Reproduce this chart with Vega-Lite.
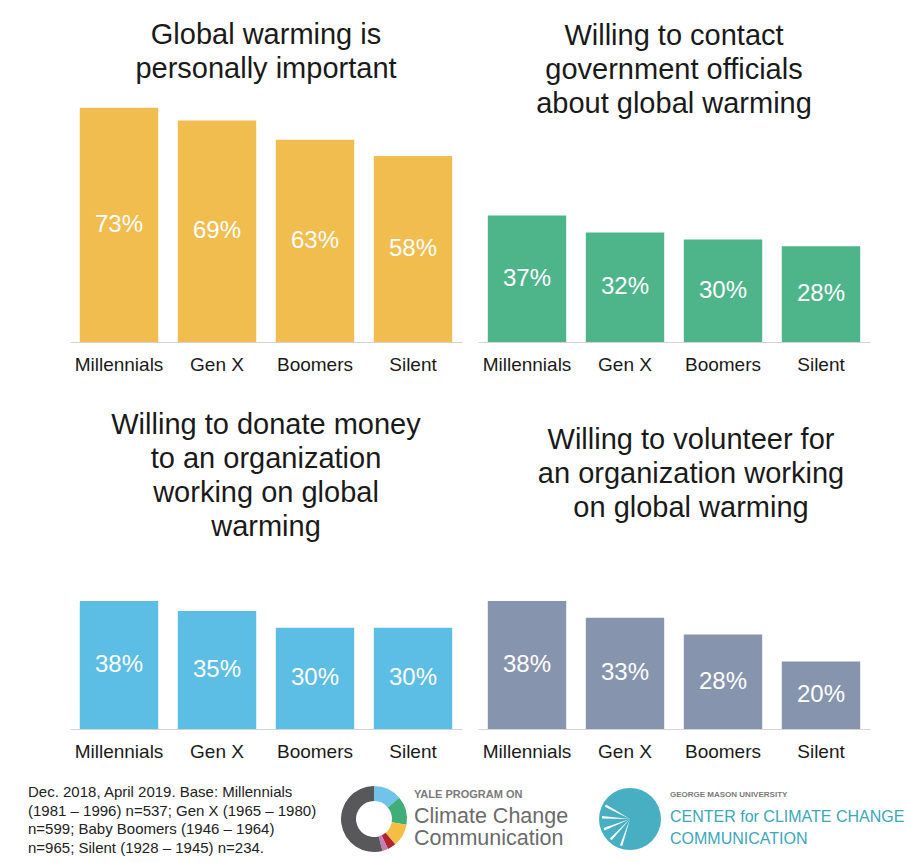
{
  "$schema": "https://vega.github.io/schema/vega-lite/v6.json",
  "padding": {"left": 28, "top": 20, "right": 0, "bottom": 0},
  "background": "white",
  "config": {
    "view": {"stroke": null},
    "font": "Liberation Sans",
    "title": {"font": "Liberation Sans", "fontSize": 29, "fontWeight": "normal", "color": "#1a1a1a", "lineHeight": 34, "anchor": "middle"}
  },
  "datasets": {
    "survey": [
      {"panel": "p1", "gen": "Millennials", "value": 0.73},
      {"panel": "p1", "gen": "Gen X", "value": 0.69},
      {"panel": "p1", "gen": "Boomers", "value": 0.63},
      {"panel": "p1", "gen": "Silent", "value": 0.58},
      {"panel": "p2", "gen": "Millennials", "value": 0.37},
      {"panel": "p2", "gen": "Gen X", "value": 0.32},
      {"panel": "p2", "gen": "Boomers", "value": 0.30},
      {"panel": "p2", "gen": "Silent", "value": 0.28},
      {"panel": "p3", "gen": "Millennials", "value": 0.38},
      {"panel": "p3", "gen": "Gen X", "value": 0.35},
      {"panel": "p3", "gen": "Boomers", "value": 0.30},
      {"panel": "p3", "gen": "Silent", "value": 0.30},
      {"panel": "p4", "gen": "Millennials", "value": 0.38},
      {"panel": "p4", "gen": "Gen X", "value": 0.33},
      {"panel": "p4", "gen": "Boomers", "value": 0.28},
      {"panel": "p4", "gen": "Silent", "value": 0.20}
    ]
  },
  "vconcat": [
    {
      "spacing": 37,
      "vconcat": [
        {
          "hconcat": [
            {
              "width": 392, "height": 240,
              "title": {"text": ["Global warming is", "personally important"], "offset": 18.5},
              "data": {"name": "survey"},
              "transform": [{"filter": "datum.panel === 'p1'"}],
              "layer": [
                {
                  "mark": {"type": "bar", "color": "#F1BD4E"},
                  "encoding": {
                    "x": {"field": "gen", "type": "nominal", "sort": ["Millennials", "Gen X", "Boomers", "Silent"], "scale": {"paddingInner": 0.2, "paddingOuter": 0.1}, "axis": {"title": null, "labelAngle": 0, "ticks": false, "domainColor": "#d3d3d3", "labelFontSize": 19, "labelColor": "#1a1a1a", "labelPadding": 13, "labelFont": "Liberation Sans"}},
                    "y": {"field": "value", "type": "quantitative", "scale": {"domain": [0, 0.748]}, "axis": null}
                  }
                },
                {
                  "mark": {"type": "text", "color": "#ffffff", "fontSize": 24, "baseline": "middle", "font": "Liberation Sans"},
                  "encoding": {
                    "x": {"field": "gen", "type": "nominal", "sort": ["Millennials", "Gen X", "Boomers", "Silent"], "scale": {"paddingInner": 0.2, "paddingOuter": 0.1}, "axis": {"title": null, "labelAngle": 0, "ticks": false, "domainColor": "#d3d3d3", "labelFontSize": 19, "labelColor": "#1a1a1a", "labelPadding": 13, "labelFont": "Liberation Sans"}},
                    "y": {"field": "value", "type": "quantitative", "scale": {"domain": [0, 1.496]}, "axis": null},
                    "text": {"field": "value", "type": "quantitative", "format": ".0%"}
                  }
                }
              ],
              "resolve": {"scale": {"y": "independent"}}
            },
            {
              "width": 392, "height": 240,
              "title": {"text": ["Willing to contact", "government officials", "about global warming"], "offset": -17},
              "data": {"name": "survey"},
              "transform": [{"filter": "datum.panel === 'p2'"}],
              "layer": [
                {
                  "mark": {"type": "bar", "color": "#4EB58B"},
                  "encoding": {
                    "x": {"field": "gen", "type": "nominal", "sort": ["Millennials", "Gen X", "Boomers", "Silent"], "scale": {"paddingInner": 0.2, "paddingOuter": 0.1}, "axis": {"title": null, "labelAngle": 0, "ticks": false, "domainColor": "#d3d3d3", "labelFontSize": 19, "labelColor": "#1a1a1a", "labelPadding": 13, "labelFont": "Liberation Sans"}},
                    "y": {"field": "value", "type": "quantitative", "scale": {"domain": [0, 0.702]}, "axis": null}
                  }
                },
                {
                  "mark": {"type": "text", "color": "#ffffff", "fontSize": 24, "baseline": "middle", "font": "Liberation Sans"},
                  "encoding": {
                    "x": {"field": "gen", "type": "nominal", "sort": ["Millennials", "Gen X", "Boomers", "Silent"], "scale": {"paddingInner": 0.2, "paddingOuter": 0.1}, "axis": {"title": null, "labelAngle": 0, "ticks": false, "domainColor": "#d3d3d3", "labelFontSize": 19, "labelColor": "#1a1a1a", "labelPadding": 13, "labelFont": "Liberation Sans"}},
                    "y": {"field": "value", "type": "quantitative", "scale": {"domain": [0, 1.404]}, "axis": null},
                    "text": {"field": "value", "type": "quantitative", "format": ".0%"}
                  }
                }
              ],
              "resolve": {"scale": {"y": "independent"}}
            }
          ],
          "spacing": 16,
          "bounds": "flush"
        },
        {
          "hconcat": [
            {
              "width": 392, "height": 147,
              "title": {"text": ["Willing to donate money", "to an organization", "working on global", "warming"], "offset": 39.6},
              "data": {"name": "survey"},
              "transform": [{"filter": "datum.panel === 'p3'"}],
              "layer": [
                {
                  "mark": {"type": "bar", "color": "#5CBEE5"},
                  "encoding": {
                    "x": {"field": "gen", "type": "nominal", "sort": ["Millennials", "Gen X", "Boomers", "Silent"], "scale": {"paddingInner": 0.2, "paddingOuter": 0.1}, "axis": {"title": null, "labelAngle": 0, "ticks": false, "domainColor": "#d3d3d3", "labelFontSize": 19, "labelColor": "#1a1a1a", "labelPadding": 13, "labelFont": "Liberation Sans"}},
                    "y": {"field": "value", "type": "quantitative", "scale": {"domain": [0, 0.436]}, "axis": null}
                  }
                },
                {
                  "mark": {"type": "text", "color": "#ffffff", "fontSize": 24, "baseline": "middle", "font": "Liberation Sans"},
                  "encoding": {
                    "x": {"field": "gen", "type": "nominal", "sort": ["Millennials", "Gen X", "Boomers", "Silent"], "scale": {"paddingInner": 0.2, "paddingOuter": 0.1}, "axis": {"title": null, "labelAngle": 0, "ticks": false, "domainColor": "#d3d3d3", "labelFontSize": 19, "labelColor": "#1a1a1a", "labelPadding": 13, "labelFont": "Liberation Sans"}},
                    "y": {"field": "value", "type": "quantitative", "scale": {"domain": [0, 0.872]}, "axis": null},
                    "text": {"field": "value", "type": "quantitative", "format": ".0%"}
                  }
                }
              ],
              "resolve": {"scale": {"y": "independent"}}
            },
            {
              "width": 392, "height": 147,
              "title": {"text": ["Willing to volunteer for", "an organization working", "on global warming"], "offset": 58.6, "dx": 17},
              "data": {"name": "survey"},
              "transform": [{"filter": "datum.panel === 'p4'"}],
              "layer": [
                {
                  "mark": {"type": "bar", "color": "#8794AE"},
                  "encoding": {
                    "x": {"field": "gen", "type": "nominal", "sort": ["Millennials", "Gen X", "Boomers", "Silent"], "scale": {"paddingInner": 0.2, "paddingOuter": 0.1}, "axis": {"title": null, "labelAngle": 0, "ticks": false, "domainColor": "#d3d3d3", "labelFontSize": 19, "labelColor": "#1a1a1a", "labelPadding": 13, "labelFont": "Liberation Sans"}},
                    "y": {"field": "value", "type": "quantitative", "scale": {"domain": [0, 0.436]}, "axis": null}
                  }
                },
                {
                  "mark": {"type": "text", "color": "#ffffff", "fontSize": 24, "baseline": "middle", "font": "Liberation Sans"},
                  "encoding": {
                    "x": {"field": "gen", "type": "nominal", "sort": ["Millennials", "Gen X", "Boomers", "Silent"], "scale": {"paddingInner": 0.2, "paddingOuter": 0.1}, "axis": {"title": null, "labelAngle": 0, "ticks": false, "domainColor": "#d3d3d3", "labelFontSize": 19, "labelColor": "#1a1a1a", "labelPadding": 13, "labelFont": "Liberation Sans"}},
                    "y": {"field": "value", "type": "quantitative", "scale": {"domain": [0, 0.872]}, "axis": null},
                    "text": {"field": "value", "type": "quantitative", "format": ".0%"}
                  }
                }
              ],
              "resolve": {"scale": {"y": "independent"}}
            }
          ],
          "spacing": 16,
          "bounds": "flush"
        }
      ]
    },
    {
      "hconcat": [
        {
          "width": 264, "height": 16,
          "data": {"values": [{"note": "Dec. 2018, April 2019. Base: Millennials\n(1981 – 1996) n=537; Gen X (1965 – 1980)\nn=599; Baby Boomers (1946 – 1964)\nn=965; Silent (1928 – 1945) n=234."}]},
          "mark": {"type": "text", "align": "left", "baseline": "middle", "lineBreak": "\n", "lineHeight": 18.7, "fontSize": 15, "font": "Liberation Sans", "color": "#222222", "dx": -42},
          "encoding": {
            "x": {"datum": 0, "type": "quantitative", "scale": {"domain": [0, 1]}, "axis": null},
            "text": {"field": "note"}
          }
        },
        {
          "width": 80, "height": 70,
          "data": {"values": [
            {"seg": "blue", "k": 1, "deg": 50},
            {"seg": "green", "k": 2, "deg": 50},
            {"seg": "yellow", "k": 3, "deg": 40},
            {"seg": "red", "k": 4, "deg": 15},
            {"seg": "pink", "k": 5, "deg": 10},
            {"seg": "gray", "k": 6, "deg": 195}
          ]},
          "mark": {"type": "arc", "innerRadius": 18, "outerRadius": 33},
          "encoding": {
            "theta": {"field": "deg", "type": "quantitative", "stack": true},
            "order": {"field": "k", "type": "quantitative"},
            "color": {"field": "seg", "type": "nominal", "legend": null, "scale": {"domain": ["blue", "green", "yellow", "red", "pink", "gray"], "range": ["#72C3EA", "#3FAE78", "#F3BE42", "#B3232F", "#C67CB5", "#58585A"]}}
          }
        },
        {
          "width": 176, "height": 66,
          "layer": [
            {
              "data": {"values": [{"line": 1, "text": "YALE PROGRAM ON"}]},
              "mark": {"type": "text", "align": "left", "baseline": "middle", "fontSize": 11, "fontWeight": "bold", "color": "#7a7a7a", "font": "Liberation Sans"},
              "encoding": {
                "x": {"datum": 0, "type": "quantitative", "scale": {"domain": [0, 1]}, "axis": null},
                "y": {"field": "line", "type": "ordinal", "scale": {"domain": [1, 2, 3]}, "axis": null},
                "text": {"field": "text"}
              }
            },
            {
              "data": {"values": [{"line": 2, "text": "Climate Change"}, {"line": 3, "text": "Communication"}]},
              "mark": {"type": "text", "align": "left", "baseline": "middle", "fontSize": 21.5, "color": "#6b6b6b", "font": "Liberation Sans"},
              "encoding": {
                "x": {"datum": 0, "type": "quantitative", "scale": {"domain": [0, 1]}, "axis": null},
                "y": {"field": "line", "type": "ordinal", "scale": {"domain": [1, 2, 3]}, "axis": null},
                "text": {"field": "text"}
              }
            }
          ]
        },
        {
          "width": 80, "height": 70,
          "layer": [
            {
              "data": {"values": [{"part": "disc", "w": 1}]},
              "mark": {"type": "arc", "outerRadius": 31, "color": "#47AFC1"},
              "encoding": {
                "theta": {"field": "w", "type": "quantitative", "stack": true}
              }
            },
            {
              "data": {"values": [
                {"k": 1, "kind": "gap", "deg": 196},
                {"k": 2, "kind": "ray", "deg": 5},
                {"k": 3, "kind": "gap", "deg": 20},
                {"k": 4, "kind": "ray", "deg": 5},
                {"k": 5, "kind": "gap", "deg": 20},
                {"k": 6, "kind": "ray", "deg": 5},
                {"k": 7, "kind": "gap", "deg": 20},
                {"k": 8, "kind": "ray", "deg": 5},
                {"k": 9, "kind": "gap", "deg": 20},
                {"k": 10, "kind": "ray", "deg": 5},
                {"k": 11, "kind": "gap", "deg": 59}
              ]},
              "mark": {"type": "arc", "outerRadius": 28},
              "encoding": {
                "theta": {"field": "deg", "type": "quantitative", "stack": true},
                "order": {"field": "k", "type": "quantitative"},
                "color": {"field": "kind", "type": "nominal", "legend": null, "scale": {"domain": ["gap", "ray"], "range": ["transparent", "#ffffff"]}}
              }
            }
          ],
          "resolve": {"scale": {"theta": "independent"}}
        },
        {
          "width": 235, "height": 66,
          "layer": [
            {
              "data": {"values": [{"line": 1, "text": "GEORGE MASON UNIVERSITY"}]},
              "mark": {"type": "text", "align": "left", "baseline": "middle", "fontSize": 8, "fontWeight": "bold", "color": "#7a7a7a", "font": "Liberation Sans"},
              "encoding": {
                "x": {"datum": 0, "type": "quantitative", "scale": {"domain": [0, 1]}, "axis": null},
                "y": {"field": "line", "type": "ordinal", "scale": {"domain": [1, 2, 3]}, "axis": null},
                "text": {"field": "text"}
              }
            },
            {
              "data": {"values": [{"line": 2, "text": "CENTER for CLIMATE CHANGE"}, {"line": 3, "text": "COMMUNICATION"}]},
              "mark": {"type": "text", "align": "left", "baseline": "middle", "fontSize": 16, "color": "#3BA7BA", "font": "Liberation Sans"},
              "encoding": {
                "x": {"datum": 0, "type": "quantitative", "scale": {"domain": [0, 1]}, "axis": null},
                "y": {"field": "line", "type": "ordinal", "scale": {"domain": [1, 2, 3]}, "axis": null},
                "text": {"field": "text"}
              }
            }
          ]
        }
      ],
      "spacing": 0,
      "bounds": "flush",
      "resolve": {"scale": {"color": "independent"}}
    }
  ],
  "spacing": 23
}
